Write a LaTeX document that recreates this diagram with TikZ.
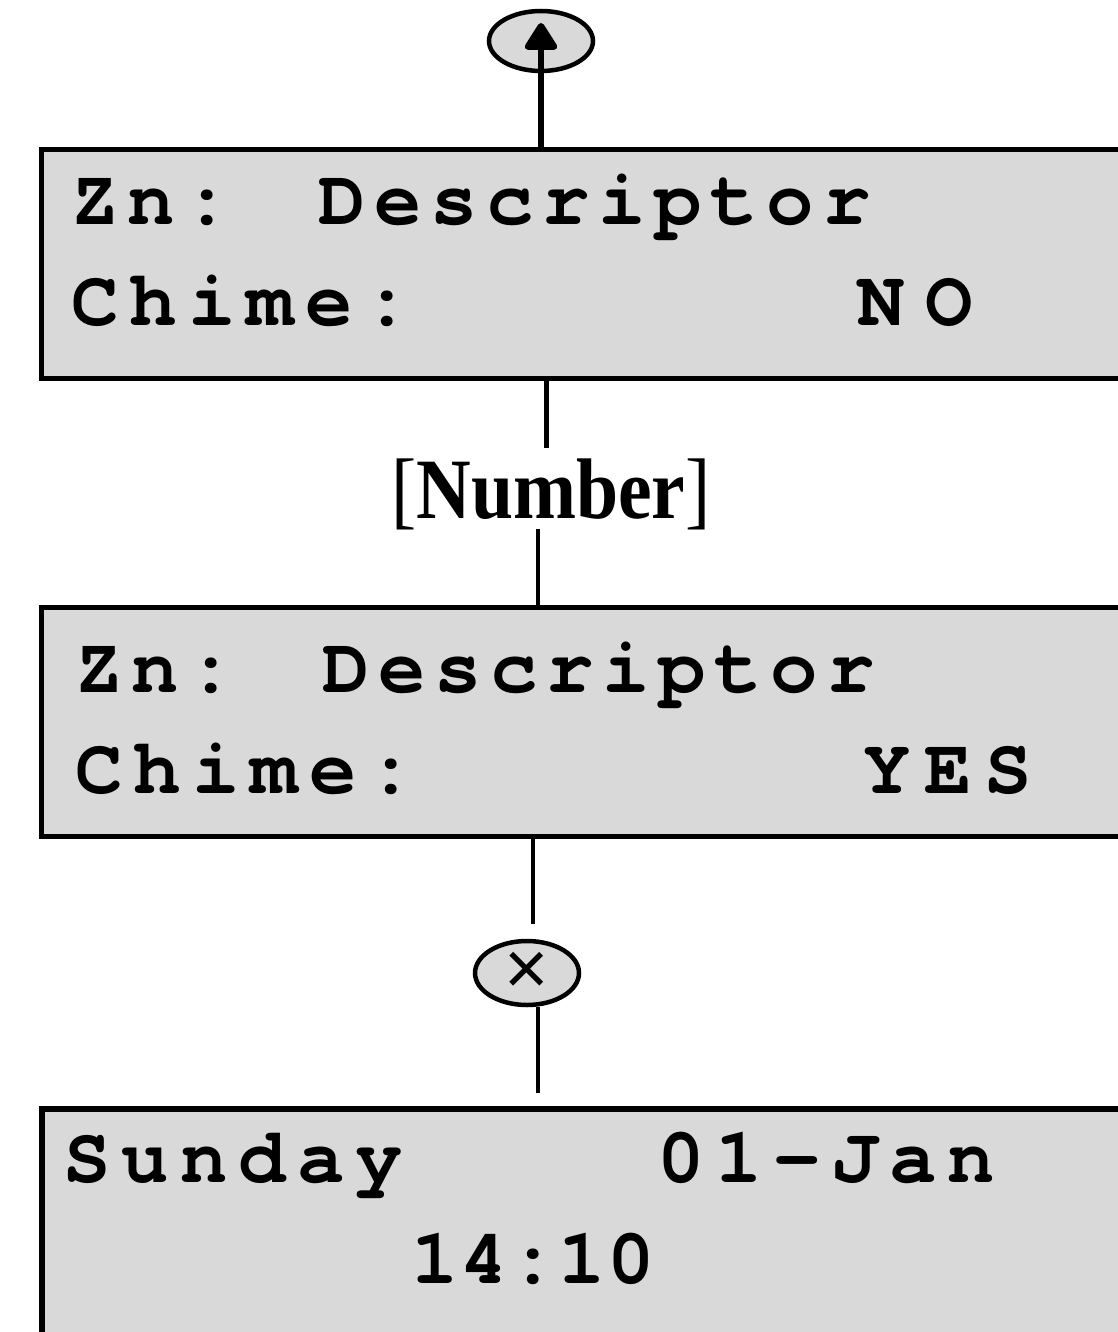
\documentclass[tikz,border=0pt]{standalone}
\usepackage{fontspec}
\newfontfamily\lcdfont[LetterSpace=11]{TeX Gyre Cursor}
\newfontfamily\numfont{Liberation Serif}
\newfontfamily\symfont{Liberation Sans}
\usetikzlibrary{arrows.meta,shapes.geometric}
\definecolor{lcdgray}{RGB}{217,217,217}
\newcommand{\ls}[1]{\addfontfeature{LetterSpace=#1}}
\begin{document}
\begin{tikzpicture}[x=1pt,y=-1pt,
  lcdbox/.style={draw=black, line width=5pt, fill=lcdgray, inner sep=0pt, anchor=north west, minimum width=1091pt},
  lcdtext/.style={font={\lcdfont\bfseries\fontsize{79pt}{79pt}\selectfont}, anchor=base west, inner sep=0pt},
  btn/.style={ellipse, draw=black, line width=4.5pt, fill=lcdgray, minimum width=104pt, minimum height=60pt, inner sep=0pt},
  conn/.style={line width=4pt, draw=black},
  numlabel/.style={font={\numfont\fontsize{86pt}{86pt}\selectfont}, inner sep=0pt}
]
\useasboundingbox (0,0) rectangle (1118,1332);
\clip (0,0) rectangle (1118,1332);

% boxes
\node[lcdbox, minimum height=228pt] (b1) at (39,147.5) {};
\node[lcdbox, minimum height=229pt] (b2) at (39,605) {};
\node[lcdbox, minimum height=250pt, line width=6pt] (b3) at (39,1106) {};

% box 1 text
\node[lcdtext] (t1a) at (71,225) {Zn:};
\node[lcdtext] (t1b) at (318,225) {Descriptor};
\node[lcdtext] (t1c) at (71,325) {\ls{14}Chime:};
\node[lcdtext] (t1d) at (857,325) {\ls{27}NO};
% box 2 text
\node[lcdtext] (t2a) at (75,692) {Zn:};
\node[lcdtext] (t2b) at (322,692) {Descriptor};
\node[lcdtext] (t2c) at (75,793) {\ls{14}Chime:};
\node[lcdtext] (t2d) at (863,793) {\ls{17}YES};
% box 3 text
\node[lcdtext] (t3a) at (63,1182) {\ls{14}Sunday};
\node[lcdtext] (t3b) at (657,1182) {\ls{13.5}01-Jan};
\node[lcdtext] (t3c) at (411,1283) {\ls{2}14:10};

% buttons
\node[btn] (up) at (541,41) {};
\node[btn, minimum height=64pt] (xb) at (527,973) {\symfont\fontsize{76pt}{76pt}\selectfont ×};

% label
\node[numlabel] (num) at (551,494) {\scalebox{0.88}[1]{[\textbf{Number}]}};

% coordinates
\coordinate (uptip) at (541,23);
\coordinate (n1) at (546,448);
\coordinate (n2) at (538,529);

% connectors
\draw[conn, line width=6.5pt, -{Triangle[length=30pt,width=36pt,round]}] (b1.north -| uptip) -- (uptip);
\draw[conn, line width=5pt] (b1.south -| n1) -- (n1);
\draw[conn, line width=3.5pt] (n2) -- (n2 |- b2.north);
\draw[conn, shorten >=15pt] ([xshift=6pt]b2.south -| xb.north) -- ([xshift=6pt]xb.north);
\draw[conn, shorten >=13pt] ([xshift=11pt]xb.south) -- ([xshift=11pt]xb.south |- b3.north);
\end{tikzpicture}
\end{document}
